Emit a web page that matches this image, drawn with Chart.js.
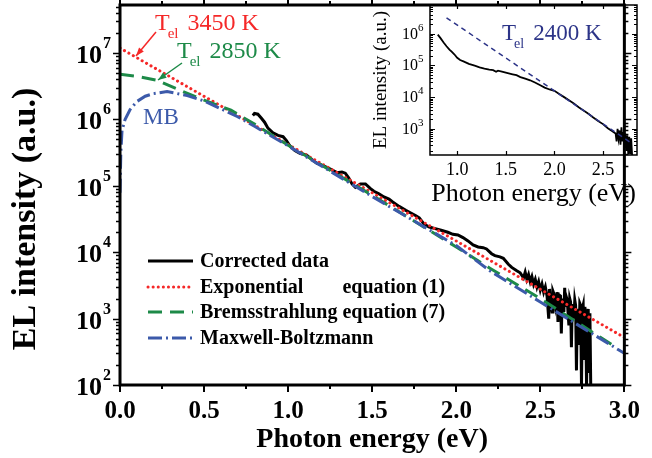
<!DOCTYPE html>
<html>
<head>
<meta charset="utf-8">
<script src="https://cdn.jsdelivr.net/npm/chart.js@4/dist/chart.umd.min.js"></script>
<style>
  html, body { margin: 0; padding: 0; background: #fff; }
  #wrap { position: relative; width: 652px; height: 458px; }
  #main { position: absolute; left: 0; top: 0; }
  #inset { position: absolute; left: 370px; top: 0; }
</style>
</head>
<body>
<div id="wrap">
  <canvas id="main" width="652" height="458"></canvas>
  <canvas id="inset" width="282" height="210"></canvas>
</div>
<script>
// ---- main panel data (photon energy in eV, EL intensity in a.u.) ----
const measE = [0.79, 0.80, 0.82, 0.84, 0.86, 0.88, 0.91, 0.94, 0.97, 0.99, 1.01, 1.04, 1.07, 1.11, 1.14, 1.17, 1.20, 1.23,
  1.26, 1.29, 1.32, 1.34, 1.36, 1.38, 1.40, 1.43, 1.46, 1.49, 1.51, 1.54, 1.57, 1.60, 1.62, 1.66, 1.70, 1.73, 1.76, 1.78,
  1.81, 1.84, 1.87, 1.91, 1.95, 1.98, 2.01, 2.04, 2.07, 2.10, 2.13, 2.16, 2.18, 2.21, 2.23, 2.26, 2.28, 2.31, 2.33, 2.36,
  2.38, 2.40, 2.41, 2.42, 2.43, 2.44, 2.45, 2.46, 2.47, 2.48, 2.49, 2.50, 2.51, 2.52, 2.53, 2.54, 2.55, 2.555, 2.56, 2.57,
  2.575, 2.58, 2.59, 2.60, 2.605, 2.61, 2.62, 2.625, 2.63, 2.64, 2.645, 2.65, 2.655, 2.66, 2.67, 2.675, 2.68, 2.685, 2.69,
  2.70, 2.705, 2.71, 2.715, 2.72, 2.73, 2.735, 2.74, 2.745, 2.75, 2.755, 2.76, 2.765, 2.77, 2.775, 2.78, 2.785, 2.79,
  2.795, 2.80];
const measI = [1.15e6, 1.23e6, 1.2e6, 1.05e6, 9.1e5, 7.4e5, 6.3e5, 5.75e5, 5.5e5, 4.8e5, 4.0e5, 3.4e5, 3.1e5, 2.9e5, 2.5e5,
  2.2e5, 2.05e5, 1.9e5, 1.74e5, 1.58e5, 1.62e5, 1.55e5, 1.32e5, 1.07e5, 9.5e4, 1.07e5, 1.07e5, 9.1e4, 8.3e4, 7.6e4, 6.8e4,
  6.3e4, 5.75e4, 4.9e4, 4.27e4, 3.9e4, 3.55e4, 3.3e4, 2.63e4, 2.4e4, 2.29e4, 2.14e4, 2.0e4, 1.86e4, 1.82e4, 1.66e4,
  1.48e4, 1.29e4, 1.2e4, 1.17e4, 1.12e4, 9.5e3, 8.9e3, 8.5e3, 8.1e3, 6.6e3, 5.9e3, 5.25e3,
  4.9e3, 4.1e3, 5.0e3, 3.9e3, 4.6e3, 3.6e3, 4.3e3, 3.3e3, 3.9e3, 3.0e3, 3.6e3, 2.7e3, 3.3e3, 2.5e3, 3.0e3, 2.2e3,
  1.0e3, 2.8e3, 2.0e3, 1.26e3, 2.6e3, 2.4e3, 1.58e3, 2.5e3, 8.9e2, 2.3e3, 2.2e3, 6.0e2, 2.0e3, 1.26e3, 2.9e3, 1.5e3,
  2.1e3, 1.9e3, 7.9e2, 2.0e3, 1.78e3, 3.7e2, 1.66e3, 1.0e3, 1.9e3, 1.58e3, 1.66e2, 1.41e3, 4.0e2, 1.7e3, 1.58e3, 95,
  1.41e3, 1.6e3, 2.5e2, 1.5e3, 1.12e3, 95, 1.0e3, 1.4e3, 1.6e2, 1.2e3, 95];

const expE = [0.0, 3.0];
const expI = [1.19e7, 5.2e2];

const bremE = [0.0, 0.1, 0.22, 0.35, 0.46, 0.66, 0.8, 1.0, 1.5, 2.0, 2.2, 2.5, 2.95];
const bremI = [4.8e6, 4.47e6, 3.9e6, 2.8e6, 2.14e6, 1.38e6, 8.5e5, 4.1e5, 7.2e4, 1.2e4, 5.75e3, 2.0e3, 3.7e2];

const mbE = [0.0, 0.005, 0.012, 0.03, 0.06, 0.1, 0.15, 0.2, 0.28, 0.4, 0.5, 0.6, 0.7, 0.8, 1.0, 1.5, 2.0, 2.2, 2.5, 3.0];
const mbI = [7.9e4, 3.16e5, 6.8e5, 1.0e6, 1.41e6, 1.86e6, 2.24e6, 2.45e6, 2.63e6, 2.29e6, 1.9e6, 1.45e6, 1.1e6, 7.9e5,
  4.0e5, 6.9e4, 1.26e4, 5.25e3, 1.78e3, 3.0e2];

// ---- inset data ----
const insetE = [0.80, 0.83, 0.86, 0.89, 0.92, 0.94, 0.97, 1.0, 1.03, 1.07, 1.12, 1.18, 1.23, 1.28, 1.33, 1.37, 1.40, 1.42,
  1.47, 1.52, 1.57, 1.61, 1.65, 1.70, 1.75, 1.80, 1.85, 1.90, 1.95, 2.0, 2.05, 2.1, 2.15, 2.2, 2.25, 2.3, 2.35, 2.4, 2.45,
  2.5, 2.55, 2.6, 2.63, 2.64, 2.65, 2.66, 2.67, 2.68, 2.69, 2.70, 2.71, 2.72, 2.73, 2.74, 2.75, 2.76, 2.77, 2.78, 2.79, 2.80];
const insetI = [9.3e5, 7.1e5, 5.25e5, 4.0e5, 3.16e5, 2.75e5, 2.24e5, 1.74e5, 1.48e5, 1.32e5, 1.12e5, 9.8e4, 8.7e4, 7.9e4,
  7.4e4, 7.1e4, 6.3e4, 6.8e4, 6.3e4, 5.75e4, 5.25e4, 4.9e4, 4.27e4, 3.8e4, 3.39e4, 2.88e4, 2.4e4, 2.0e4, 1.74e4, 1.58e4,
  1.26e4, 1.0e4, 7.9e3, 6.3e3, 4.8e3, 3.8e3, 3.0e3, 2.29e3, 1.78e3, 1.41e3, 1.05e3, 8.3e2, 7.1e2, 4.0e2, 1.0e3, 5.0e2,
  8.9e2, 3.16e2, 1.12e3, 4.0e2, 7.9e2, 2.5e2, 7.1e2, 2.0e2, 6.3e2, 1.6e2, 5.6e2, 1.6e2, 5.0e2, 1.4e2];
const insetFitE = [0.89, 2.79];
const insetFitI = [3.16e6, 3.6e2];

// ---- axes ----
const xMajor = [0, 0.5, 1.0, 1.5, 2.0, 2.5, 3.0];
const xMinor = [0.25, 0.75, 1.25, 1.75, 2.25, 2.75];
const yDecades = [2, 3, 4, 5, 6, 7];
const insetXMajor = [1.0, 1.5, 2.0, 2.5];
const insetDecades = [3, 4, 5, 6];

const legendLabels = ['Corrected data', 'Exponential', 'Bremsstrahlung equation (7)', 'Maxwell-Boltzmann'];

const RED = '#f52828', GREEN = '#1d8a48', BLUE = '#3c5aaa', NAVY = '#2c3488';
const SERIF = '"Liberation Serif", "Times New Roman", serif';

const pts = (xs, ys) => xs.map((x, i) => ({ x, y: ys[i] }));

function drawLogTicks(ctx, a, y, max, major, minor, inward, width) {
  ctx.lineWidth = width;
  const dir = inward ? 1 : -1;
  for (let n = 1; n <= 8; n++) {
    for (let m = 1; m <= 9; m++) {
      const v = m * Math.pow(10, n);
      if (v < y.min || v > max) continue;
      const py = Math.round(y.getPixelForValue(v)) + 0.5;
      const len = m === 1 ? major : minor;
      ctx.beginPath();
      ctx.moveTo(a.left, py); ctx.lineTo(a.left + dir * len, py);
      ctx.moveTo(a.right, py); ctx.lineTo(a.right - dir * len, py);
      ctx.stroke();
    }
  }
}

function arrow(ctx, x1, y1, x2, y2, color) {
  ctx.strokeStyle = color; ctx.fillStyle = color; ctx.lineWidth = 1.5;
  ctx.beginPath(); ctx.moveTo(x1, y1); ctx.lineTo(x2, y2); ctx.stroke();
  const ang = Math.atan2(y2 - y1, x2 - x1);
  ctx.beginPath();
  ctx.moveTo(x2, y2);
  ctx.lineTo(x2 - 9 * Math.cos(ang - 0.35), y2 - 9 * Math.sin(ang - 0.35));
  ctx.lineTo(x2 - 9 * Math.cos(ang + 0.35), y2 - 9 * Math.sin(ang + 0.35));
  ctx.closePath(); ctx.fill();
}

function tel(ctx, x, y, rest, color, size, sub) {
  ctx.fillStyle = color;
  ctx.textAlign = 'left'; ctx.textBaseline = 'alphabetic';
  ctx.font = `${size}px ${SERIF}`;
  ctx.fillText('T', x, y);
  const w = ctx.measureText('T').width;
  ctx.font = `${sub}px ${SERIF}`;
  ctx.fillText('el', x + w - 2, y + 8);
  const ws = ctx.measureText('el').width;
  ctx.font = `${size}px ${SERIF}`;
  ctx.fillText(rest, x + w + ws + 7, y);
}

const mainDecor = {
  id: 'mainDecor',
  afterDraw(chart) {
    const { ctx, chartArea: a, scales: { x, y } } = chart;
    ctx.save();
    ctx.strokeStyle = '#000';
    // x ticks (outward)
    ctx.lineWidth = 2;
    xMajor.forEach(v => {
      const px = Math.round(x.getPixelForValue(v));
      ctx.beginPath(); ctx.moveTo(px, a.bottom); ctx.lineTo(px, a.bottom + 7);
      ctx.moveTo(px, a.top); ctx.lineTo(px, a.top - 6); ctx.stroke();
    });
    xMinor.forEach(v => {
      const px = Math.round(x.getPixelForValue(v));
      ctx.beginPath(); ctx.moveTo(px, a.bottom); ctx.lineTo(px, a.bottom + 4);
      ctx.moveTo(px, a.top); ctx.lineTo(px, a.top - 4); ctx.stroke();
    });
    drawLogTicks(ctx, a, y, y.max, 7, 4, false, 1.6);
    ctx.lineWidth = 3;
    ctx.strokeRect(a.left, a.top, a.right - a.left, a.bottom - a.top);

    // y tick labels 10^n
    ctx.fillStyle = '#000';
    ctx.textBaseline = 'alphabetic';
    yDecades.forEach(n => {
      const py = y.getPixelForValue(Math.pow(10, n));
      ctx.font = `bold 26px ${SERIF}`;
      ctx.textAlign = 'right';
      ctx.fillText('10', 102, py + 10);
      ctx.font = `bold 16px ${SERIF}`;
      ctx.textAlign = 'left';
      ctx.fillText(String(n), 103, py - 5);
    });

    // y title
    ctx.save();
    ctx.translate(35, 219);
    ctx.rotate(-Math.PI / 2);
    ctx.font = `bold 34px ${SERIF}`;
    ctx.textAlign = 'center';
    ctx.fillText('EL intensity (a.u.)', 0, 0);
    ctx.restore();

    // legend
    const lx = 148, lx2 = 193, tx = 200;
    const rows = [261, 287, 312, 338];
    const ds = chart.data.datasets;
    const order = [3, 2, 1, 0];
    ctx.font = `bold 20px ${SERIF}`;
    const fullW = ctx.measureText(legendLabels[2]).width;
    rows.forEach((ry, i) => {
      const d = ds[order[i]];
      ctx.save();
      ctx.strokeStyle = d.borderColor;
      ctx.lineWidth = d.borderWidth;
      ctx.lineCap = d.borderCapStyle || 'butt';
      ctx.setLineDash(d.borderDash || []);
      ctx.beginPath(); ctx.moveTo(lx, ry); ctx.lineTo(lx2, ry); ctx.stroke();
      ctx.restore();
      ctx.fillStyle = '#000';
      ctx.textAlign = 'left';
      ctx.textBaseline = 'middle';
      ctx.font = `bold 20px ${SERIF}`;
      ctx.fillText(legendLabels[i], tx, ry + 1);
      if (i === 1) {
        ctx.textAlign = 'right';
        ctx.fillText('equation (1)', tx + fullW, ry + 1);
      }
    });

    // annotations
    tel(ctx, 155, 30, '3450 K', RED, 24, 15);
    arrow(ctx, 156, 32, 136, 56, RED);
    tel(ctx, 177, 58, '2850 K', GREEN, 24, 15);
    arrow(ctx, 182, 63, 158, 80, GREEN);
    ctx.fillStyle = BLUE;
    ctx.font = `23px ${SERIF}`;
    ctx.textAlign = 'left'; ctx.textBaseline = 'alphabetic';
    ctx.fillText('MB', 143, 124);
    ctx.restore();
  }
};

new Chart(document.getElementById('main'), {
  type: 'line',
  data: {
    datasets: [
      { label: 'Maxwell-Boltzmann', data: pts(mbE, mbI), borderColor: BLUE, borderWidth: 3,
        borderDash: [14, 4, 2, 4], order: 0 },
      { label: 'Bremsstrahlung', data: pts(bremE, bremI), borderColor: GREEN, borderWidth: 3,
        borderDash: [14, 8], order: 1 },
      { label: 'Exponential', data: pts(expE, expI), borderColor: RED, borderWidth: 3,
        borderDash: [0.1, 5], borderCapStyle: 'round', order: 2 },
      { label: 'Corrected data', data: pts(measE, measI), borderColor: '#000', borderWidth: 3, order: 3 }
    ]
  },
  options: {
    responsive: false,
    animation: false,
    devicePixelRatio: 1,
    layout: { padding: { left: 0, top: 5, right: 16, bottom: 0 } },
    elements: { point: { radius: 0 }, line: { tension: 0, fill: false } },
    plugins: { legend: { display: false }, tooltip: { enabled: false } },
    scales: {
      x: {
        type: 'linear', min: 0, max: 3,
        afterBuildTicks: s => { s.ticks = xMajor.map(v => ({ value: v })); },
        afterFit: s => { s.height = 73; },
        grid: { display: false, drawTicks: false },
        border: { display: false },
        ticks: { color: '#000', padding: 12, font: { family: SERIF, size: 25, weight: 'bold' },
          callback: v => v.toFixed(1) },
        title: { display: true, text: 'Photon energy (eV)', color: '#000', padding: { top: 0, bottom: 1 },
          font: { family: SERIF, size: 28, weight: 'bold' } }
      },
      y: {
        type: 'logarithmic', min: 100, max: 5.3e7,
        afterFit: s => { s.width = 120; },
        grid: { display: false, drawTicks: false },
        border: { display: false },
        ticks: { display: false }
      }
    }
  },
  plugins: [mainDecor]
});

const insetDecor = {
  id: 'insetDecor',
  afterDraw(chart) {
    const { ctx, chartArea: a, scales: { x, y } } = chart;
    ctx.save();
    ctx.strokeStyle = '#000';
    ctx.lineWidth = 1.2;
    insetXMajor.forEach(v => {
      const px = Math.round(x.getPixelForValue(v)) + 0.5;
      ctx.beginPath(); ctx.moveTo(px, a.bottom); ctx.lineTo(px, a.bottom - 4);
      ctx.moveTo(px, a.top); ctx.lineTo(px, a.top + 4); ctx.stroke();
    });
    drawLogTicks(ctx, a, y, y.max, 5, 3, true, 1.2);
    ctx.lineWidth = 1.5;
    ctx.strokeRect(a.left, a.top, a.right - a.left, a.bottom - a.top);
    ctx.fillStyle = '#000';
    ctx.textBaseline = 'alphabetic';
    insetDecades.forEach(n => {
      const py = y.getPixelForValue(Math.pow(10, n));
      ctx.font = `16px ${SERIF}`;
      ctx.textAlign = 'right';
      ctx.fillText('10', 48, py + 5);
      ctx.font = `11px ${SERIF}`;
      ctx.textAlign = 'left';
      ctx.fillText(String(n), 48, py - 3);
    });
    tel(ctx, 132, 40, '2400 K', NAVY, 23, 14);
    ctx.restore();
  }
};

new Chart(document.getElementById('inset'), {
  type: 'line',
  data: {
    datasets: [
      { label: 'fit', data: pts(insetFitE, insetFitI), borderColor: NAVY, borderWidth: 1.5, borderDash: [5, 4], order: 0 },
      { label: 'data', data: pts(insetE, insetI), borderColor: '#000', borderWidth: 1.8, order: 1 }
    ]
  },
  options: {
    responsive: false,
    animation: false,
    devicePixelRatio: 1,
    layout: { padding: { left: 0, top: 5, right: 15, bottom: 0 } },
    elements: { point: { radius: 0 }, line: { tension: 0, fill: false } },
    plugins: { legend: { display: false }, tooltip: { enabled: false } },
    scales: {
      x: {
        type: 'linear', min: 0.72, max: 2.85,
        afterBuildTicks: s => { s.ticks = insetXMajor.map(v => ({ value: v })); },
        afterFit: s => { s.height = 55; },
        grid: { display: false, drawTicks: false },
        border: { display: false },
        ticks: { color: '#000', padding: 4, font: { family: SERIF, size: 18 }, callback: v => v.toFixed(1) },
        title: { display: true, text: 'Photon energy (eV)', color: '#000', padding: { top: 0, bottom: 0 },
          font: { family: SERIF, size: 26 } }
      },
      y: {
        type: 'logarithmic', min: 150, max: 8e6,
        afterFit: s => { s.width = 60; },
        grid: { display: false, drawTicks: false },
        border: { display: false },
        ticks: { display: false },
        title: { display: true, text: 'EL intensity (a.u.)', color: '#000', padding: { top: 0, bottom: 0 },
          font: { family: SERIF, size: 19 } }
      }
    }
  },
  plugins: [insetDecor]
});
</script>
</body>
</html>
